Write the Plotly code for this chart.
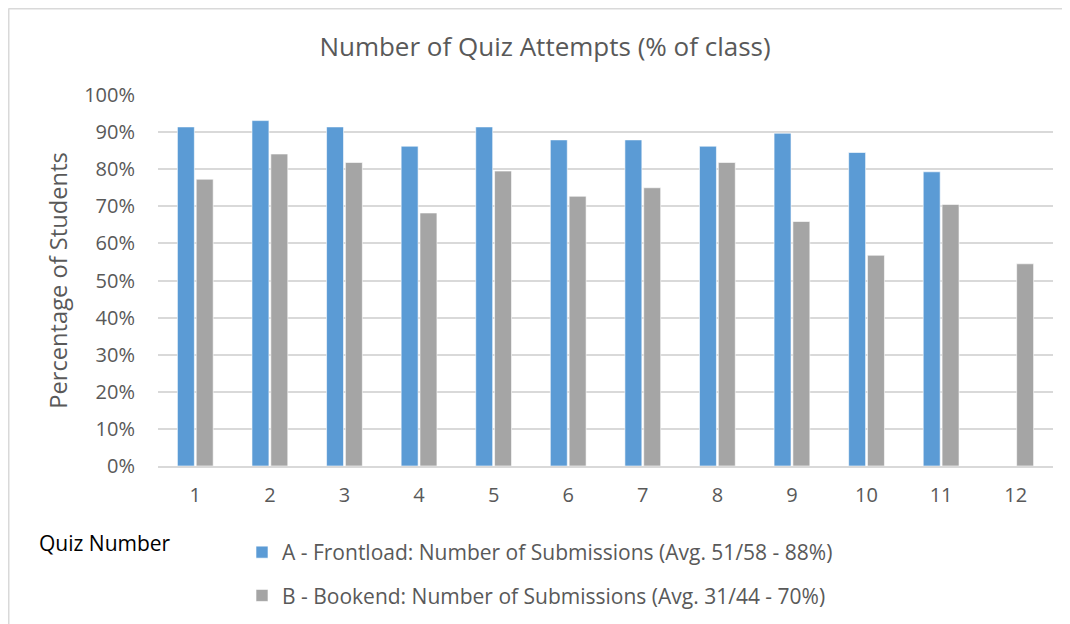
import plotly.graph_objects as go

quizzes = ["1", "2", "3", "4", "5", "6", "7", "8", "9", "10", "11", "12"]
frontload = [91.4, 93.1, 91.4, 86.2, 91.4, 87.9, 87.9, 86.2, 89.7, 84.5, 79.3, None]
bookend = [77.3, 84.1, 81.8, 68.2, 79.5, 72.7, 75.0, 81.8, 65.9, 56.8, 70.5, 54.5]
name_a = "A - Frontload: Number of Submissions (Avg. 51/58 - 88%)"
name_b = "B - Bookend: Number of Submissions (Avg. 31/44 - 70%)"

OFF = 8  # default page body margin
W, H = 1070 - OFF, 630
# target plot area in page pixels: x 158..1053, y 95..466
L, T = 158 - OFF, 95 - OFF
R = W - (1053 - OFF)
B = H - (466 - OFF)
pw, ph = W - L - R, H - T - B


def px(x):
    return (x - OFF - L) / pw


def py(y):
    return (H - B - (y - OFF)) / ph


def cx(x):
    return (x - OFF) / W


def cy(y):
    return 1 - (y - OFF) / H


FONT = "Open Sans"
GREY_TXT = "#595959"

fig = go.Figure()
fig.add_trace(go.Bar(x=quizzes, y=frontload, name=name_a, marker_color="#5b9bd5",
                     marker_line=dict(color="white", width=0.6), legendgroup="a"))
fig.add_trace(go.Bar(x=quizzes, y=bookend, name=name_b, marker_color="#a5a5a5",
                     marker_line=dict(color="white", width=0.6), legendgroup="b"))

fig.update_layout(
    width=W, height=H,
    margin=dict(l=L, r=R, t=T, b=B),
    paper_bgcolor="white", plot_bgcolor="white",
    font=dict(family=FONT, color=GREY_TXT, size=20),
    barmode="group", bargap=0.495, bargroupgap=0.1,
    title=dict(text="Number of Quiz Attempts (% of class)", x=cx(545), xref="container",
               xanchor="center", y=cy(47), yanchor="middle",
               font=dict(size=26, color=GREY_TXT)),
    xaxis=dict(showgrid=False, showline=True, linecolor="#d9d9d9", linewidth=1.5,
               ticks="", tickfont=dict(size=20, color=GREY_TXT), ticklabelstandoff=10),
    yaxis=dict(range=[0, 100], dtick=10, ticksuffix="%", showgrid=True, gridcolor="#d9d9d9",
               gridwidth=1.5, zeroline=False, tickfont=dict(size=20, color=GREY_TXT),
               ticklabelstandoff=22,
               title=dict(text="Percentage of Students", font=dict(size=23.7, color=GREY_TXT), standoff=9)),
    legend=dict(x=px(242), y=py(532), xanchor="left", yanchor="top", orientation="v",
                font=dict(size=21, color=GREY_TXT), tracegroupgap=13, itemwidth=30,
                bgcolor="rgba(0,0,0,0)"),
    showlegend=True,
)

fig.add_annotation(text="Quiz Number", x=px(37), y=py(543), xref="paper", yref="paper",
                   xanchor="left", yanchor="middle", showarrow=False,
                   font=dict(size=21, color="black", family=FONT))

# partial chart border (top and left edges only)
fig.add_shape(type="line", xref="paper", yref="paper", x0=px(OFF + 0.5), x1=px(1070), y0=py(OFF + 0.5), y1=py(OFF + 0.5),
              line=dict(color="#d9d9d9", width=2))
fig.add_shape(type="line", xref="paper", yref="paper", x0=px(OFF + 0.5), x1=px(OFF + 0.5), y0=py(OFF + 0.5), y1=py(640),
              line=dict(color="#d9d9d9", width=2))

fig.write_html("out.html", config={"displayModeBar": False})
